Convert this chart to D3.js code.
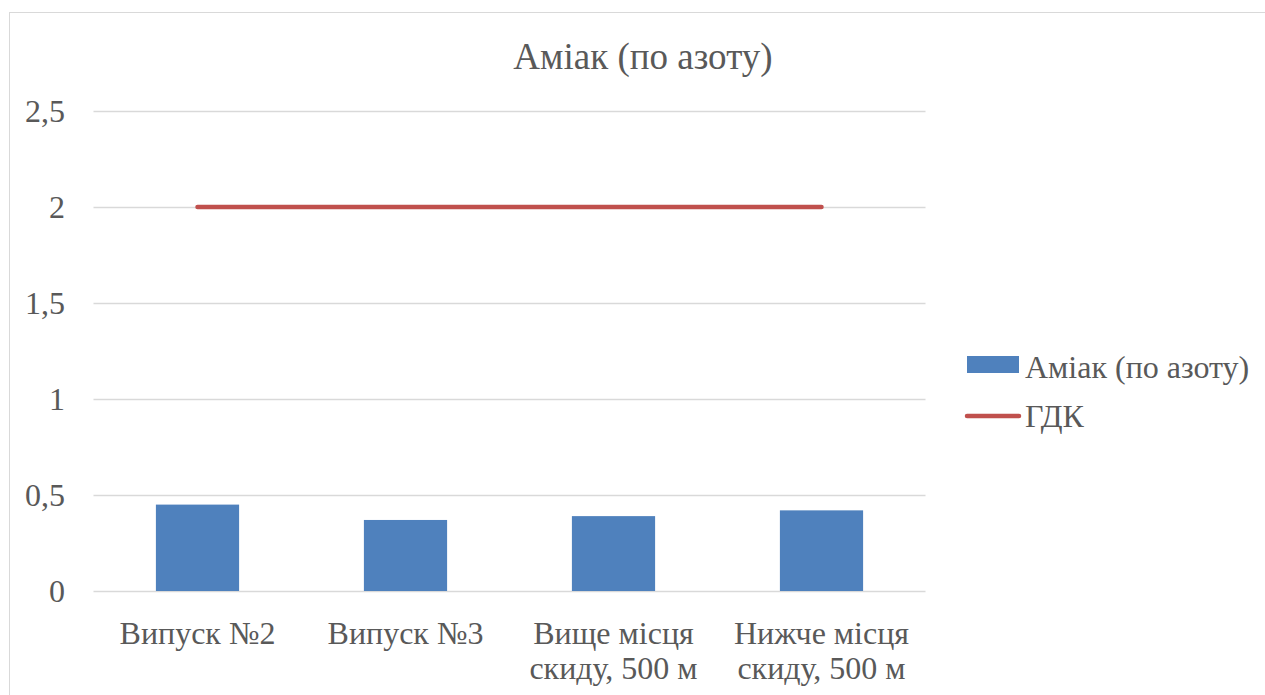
<!DOCTYPE html>
<html>
<head>
<meta charset="utf-8">
<script src="https://cdn.jsdelivr.net/npm/d3@7"></script>
</head>
<body style="margin:0;background:#fff">
<svg id="chart" width="1265" height="695" style="display:block"></svg>
<script>
// Ammonia (nitrogen) concentrations by sampling point, with the MPC level
const categories = [["Випуск №2"], ["Випуск №3"], ["Вище місця", "скиду, 500 м"], ["Нижче місця", "скиду, 500 м"]];
const ammonia = [0.45, 0.37, 0.39, 0.42];
const mpc = [2, 2, 2, 2];
const yTicks = [0, 0.5, 1, 1.5, 2, 2.5];
const yTickLabels = ["0", "0,5", "1", "1,5", "2", "2,5"];
const title = "Аміак (по азоту)";
const seriesNames = ["Аміак (по азоту)", "ГДК"];

const FONT = '"Liberation Serif", "Times New Roman", Tinos, serif';
const TEXT = "#595959";
const BLUE = "#4f81bd";
const RED = "#c0504d";

const svg = d3.select("#chart");
const W = 1265, H = 695;
const plot = { left: 93.5, right: 925.5, top: 111, bottom: 591 };

// Apply the serif face directly on a text node
const serif = (sel, size) => sel
  .style("font-family", FONT)
  .style("font-size", size + "px")
  .attr("fill", TEXT);

// Outer chart frame
svg.append("rect")
  .attr("x", 9.5).attr("y", 12.5)
  .attr("width", W + 20).attr("height", H + 20)
  .attr("fill", "#fff").attr("stroke", "#d9d9d9").attr("stroke-width", 1);

const keys = categories.map((d, i) => i);
const x = d3.scaleBand().domain(keys).range([plot.left, plot.right]).paddingInner(0.6).paddingOuter(0.3);
const y = d3.scaleLinear().domain([0, 2.5]).range([plot.bottom, plot.top]);

// Horizontal gridlines
svg.append("g").selectAll("line").data(yTicks).join("line")
  .attr("x1", plot.left).attr("x2", plot.right)
  .attr("y1", d => Math.round(y(d)) + 0.5).attr("y2", d => Math.round(y(d)) + 0.5)
  .attr("stroke", "#d9d9d9").attr("stroke-width", 1.5);

// Y axis labels
const yAxis = d3.axisLeft(y).tickValues(yTicks).tickFormat((d, i) => yTickLabels[i]).tickSize(0).tickPadding(0);
const gy = svg.append("g").attr("transform", "translate(65,0)").call(yAxis);
gy.attr("font-family", null).attr("font-size", null);
gy.select(".domain").remove();
gy.selectAll("text").attr("dy", "0.34em").call(serif, 32);

// Bars
svg.append("g").selectAll("rect").data(ammonia).join("rect")
  .attr("x", (d, i) => x(i)).attr("width", x.bandwidth())
  .attr("y", d => y(d)).attr("height", d => y(0) - y(d))
  .attr("fill", BLUE);

// MPC line
const line = d3.line().x((d, i) => x(i) + x.bandwidth() / 2).y(d => y(d));
svg.append("path").datum(mpc)
  .attr("d", line)
  .attr("fill", "none").attr("stroke", RED).attr("stroke-width", 4.5)
  .attr("stroke-linecap", "round");

// Category labels
const xl = svg.append("g");
categories.forEach((lines, i) => {
  const cx = x(i) + x.bandwidth() / 2;
  const t = xl.append("text").attr("x", cx).attr("y", 644).attr("text-anchor", "middle").call(serif, 32);
  lines.forEach((s, j) => t.append("tspan").attr("x", cx).attr("dy", j === 0 ? 0 : 35).text(s));
});

// Title
svg.append("text").attr("x", 643).attr("y", 69)
  .attr("text-anchor", "middle").call(serif, 37).text(title);

// Legend
const lg = svg.append("g");
lg.append("rect").attr("x", 967).attr("y", 356).attr("width", 52).attr("height", 17).attr("fill", BLUE);
lg.append("text").attr("x", 1025).attr("y", 378).call(serif, 32).text(seriesNames[0]);
lg.append("line").attr("x1", 967).attr("x2", 1019).attr("y1", 416).attr("y2", 416)
  .attr("stroke", RED).attr("stroke-width", 4.5).attr("stroke-linecap", "round");
lg.append("text").attr("x", 1025).attr("y", 427).call(serif, 32).text(seriesNames[1]);
</script>
</body>
</html>
